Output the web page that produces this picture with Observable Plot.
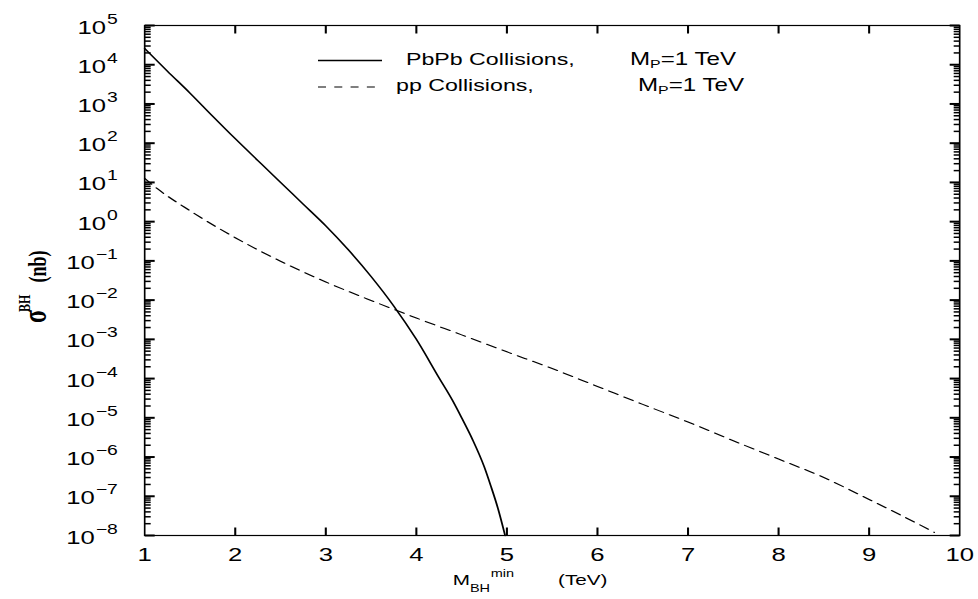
<!DOCTYPE html>
<html>
<head>
<meta charset="utf-8">
<script src="https://cdn.jsdelivr.net/npm/d3@7"></script>
<script src="https://cdn.jsdelivr.net/npm/@observablehq/plot@0.6"></script>
<style>
  html, body { margin: 0; padding: 0; background: #fff; }
  #chart { width: 978px; height: 599px; overflow: hidden; }
</style>
</head>
<body>
<div id="chart"></div>
<script>
// Black hole production cross section vs. minimum black hole mass (M_P = 1 TeV)
const pbpbMass = [1, 1.25, 1.5, 1.75, 2, 2.25, 2.5, 2.75, 3, 3.25, 3.5, 3.75, 4, 4.25, 4.4, 4.5, 4.62, 4.75, 4.82, 4.9, 4.98];
const pbpbSigma = [2.6e4, 6.9e3, 1.9e3, 4.9e2, 1.3e2, 36, 10, 2.8, 0.78, 0.19, 0.040, 7.1e-3, 1.0e-3, 1.05e-4, 2.75e-5, 1.0e-5, 2.8e-6, 5.6e-7, 1.9e-7, 5.0e-8, 1.0e-8];

const ppMass = [1, 1.14, 1.5, 2, 2.5, 3, 3.5, 4, 4.5, 5, 5.5, 6, 6.5, 7, 7.5, 8, 8.5, 9, 9.5, 9.72];
const ppSigma = [12.6, 6.9, 1.9, 0.39, 0.098, 0.029, 9.8e-3, 3.5e-3, 1.3e-3, 4.8e-4, 1.8e-4, 6.3e-5, 2.2e-5, 7.8e-6, 2.6e-6, 8.9e-7, 3.0e-7, 8.3e-8, 2.2e-8, 1.2e-8];

const xTicks = [1, 2, 3, 4, 5, 6, 7, 8, 9, 10];
const yExponents = [-8, -7, -6, -5, -4, -3, -2, -1, 0, 1, 2, 3, 4, 5];
const minorMultipliers = [2, 3, 4, 5, 6, 7, 8, 9];

const legendLabels = ["PbPb Collisions,", "pp Collisions,"];
const legendMass = "=1 TeV";

// The figure is drawn in a narrower coordinate space and stretched horizontally.
const SX = 1.38;
const W = 978 / SX;
const H = 599;
const mLeft = 144 / SX, mRight = (978 - 959) / SX, mTop = 25, mBottom = 64;
const innerW = W - mLeft - mRight, innerH = H - mTop - mBottom;
const xMin = 1, xMax = 10, yMin = 1e-8, yMax = 1e5;

const majorY = yExponents.map(e => 10 ** e);
const minorY = yExponents.slice(0, -1).flatMap(e => minorMultipliers.map(m => m * 10 ** e));
const innerXTicks = xTicks.slice(1, -1);

const pbpb = pbpbMass.map((m, i) => ({m, s: pbpbSigma[i]}));
const pp = ppMass.map((m, i) => ({m, s: ppSigma[i]}));

const sans = "Liberation Sans, Arial, Helvetica, sans-serif";
const sup = e => (e < 0 ? "\u2212" + (-e) : String(e));

// tick lengths in pixels, expressed as spans along each axis
const unitsPerPx = (xMax - xMin) / innerW;
const decadesPerPx = Math.log10(yMax / yMin) / innerH;
const majorSpan = (10 / SX) * unitsPerPx;
const minorSpan = (6 / SX) * unitsPerPx;
const xTickFactor = 10 ** (8 * decadesPerPx);

const yTick = (vals, span, side, sw) => Plot.link(vals, {
  x1: side === "left" ? xMin : xMax,
  x2: side === "left" ? xMin + span : xMax - span,
  y1: d => d, y2: d => d,
  stroke: "#000", strokeWidth: sw
});
const xTick = (side) => Plot.link(innerXTicks, {
  x1: d => d, x2: d => d,
  y1: side === "top" ? yMax : yMin,
  y2: side === "top" ? yMax / xTickFactor : yMin * xTickFactor,
  stroke: "#000", strokeWidth: 1.5
});

const plot = Plot.plot({
  width: W,
  height: H,
  marginLeft: mLeft,
  marginRight: mRight,
  marginTop: mTop,
  marginBottom: mBottom,
  x: {domain: [xMin, xMax], axis: null},
  y: {type: "log", domain: [yMin, yMax], axis: null},
  style: {background: "#fff", fontFamily: sans, overflow: "visible"},
  marks: [
    Plot.frame({stroke: "black", fill: "none", strokeWidth: 1.2}),
    // inward ticks on all four sides
    yTick(majorY, majorSpan, "left", 2),
    yTick(majorY, majorSpan, "right", 2),
    yTick(minorY, minorSpan, "left", 1.5),
    yTick(minorY, minorSpan, "right", 1.5),
    xTick("top"),
    xTick("bottom"),
    // curves
    Plot.line(pp, {x: "m", y: "s", stroke: "black", strokeWidth: 1.1, strokeDasharray: "7.5,5", curve: "monotone-x"}),
    Plot.line(pbpb, {x: "m", y: "s", stroke: "black", strokeWidth: 1.3, curve: "monotone-x"}),
    // tick labels
    Plot.text(xTicks, {x: d => d, frameAnchor: "bottom", dy: 25, lineAnchor: "bottom", textAnchor: "middle",
      text: d => String(d), fontSize: 18.6, fontFamily: sans, fill: "black"}),
    Plot.text(yExponents, {y: e => 10 ** e, frameAnchor: "left", dx: -27 / SX, dy: 8, lineAnchor: "bottom",
      textAnchor: "end", text: e => "10^" + sup(e), fontSize: 18.6, fontFamily: sans, fill: "black"})
  ]
});

const svgEl = plot;
const NS = "http://www.w3.org/2000/svg";
svgEl.setAttribute("width", 978);
svgEl.setAttribute("height", H);
svgEl.setAttribute("viewBox", `0 0 ${W} ${H}`);
svgEl.setAttribute("preserveAspectRatio", "none");
svgEl.style.width = "978px";
svgEl.style.height = H + "px";
svgEl.style.maxWidth = "none";

// powers of ten: "10" with a raised exponent
svgEl.querySelectorAll("text").forEach(t => {
  if (!t.textContent.includes("^")) return;
  const [base, exp] = t.textContent.split("^");
  t.textContent = base;
  const ts = document.createElementNS(NS, "tspan");
  ts.setAttribute("dx", "0.6");
  ts.setAttribute("dy", "-10");
  ts.setAttribute("font-size", "14");
  ts.textContent = exp;
  t.appendChild(ts);
});

const chartRoot = d3.select(svgEl);

// legend
const legend = chartRoot.append("g").attr("fill", "black").attr("font-family", sans).attr("text-anchor", "start");
const rows = [
  {label: legendLabels[0], tx: 406, mx: 630, baseline: 65, lineY: 60.5, dash: null},
  {label: legendLabels[1], tx: 396, mx: 638, baseline: 91, lineY: 87, dash: "5.8,6"}
];
rows.forEach(r => {
  legend.append("line")
    .attr("x1", 318 / SX).attr("x2", 382 / SX)
    .attr("y1", r.lineY).attr("y2", r.lineY)
    .attr("stroke", "black").attr("stroke-width", r.dash ? 1.1 : 1.3)
    .attr("stroke-dasharray", r.dash);
  const t = legend.append("text").attr("x", r.tx / SX).attr("y", r.baseline).attr("font-size", 16.8);
  t.append("tspan").text(r.label);
  t.append("tspan").attr("x", r.mx / SX).attr("font-size", 17.5).text("M");
  t.append("tspan").attr("dy", 3).attr("font-size", 11.5).text("P");
  t.append("tspan").attr("dy", -3).attr("font-size", 17.5).text(legendMass);
});

// x axis title
const xTitle = chartRoot.append("text")
  .attr("x", 452.7 / SX).attr("y", 585).attr("text-anchor", "start")
  .attr("font-family", sans).attr("font-size", 15).attr("fill", "black");
xTitle.append("tspan").text("M");
xTitle.append("tspan").attr("dy", 7).attr("font-size", 10.5).text("BH");
xTitle.append("tspan").attr("dx", 0.5).attr("dy", -15).attr("font-size", 10.5).text("min");
xTitle.append("tspan").attr("x", 558 / SX).attr("dy", 8).text("(TeV)");

// y axis title
const yTitle = chartRoot.append("text")
  .attr("transform", `translate(${46 / SX},323) rotate(-90)`)
  .attr("text-anchor", "start")
  .attr("font-family", "Liberation Serif, Times New Roman, serif")
  .attr("font-weight", "bold").attr("fill", "black");
yTitle.append("tspan").attr("font-size", 24).text("\u03c3");
yTitle.append("tspan").attr("dx", -2).attr("dy", -11.5).attr("font-size", 12).text("BH");
yTitle.append("tspan").attr("dy", 11.5).attr("font-size", 18).attr("dx", 12).text("(nb)");

document.getElementById("chart").appendChild(svgEl);
</script>
</body>
</html>
